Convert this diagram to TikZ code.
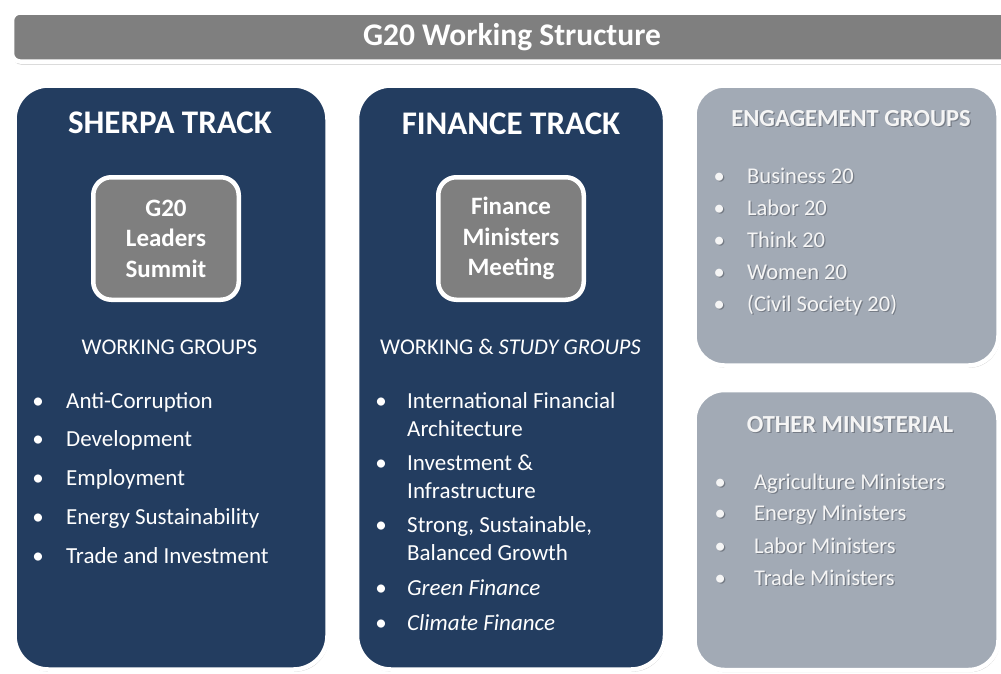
\documentclass[tikz,border=0pt]{standalone}
\usepackage{fontspec}
\setmainfont{Carlito}
\usetikzlibrary{shadows}
\definecolor{navy}{RGB}{35,61,96}
\definecolor{midgray}{RGB}{127,127,127}
\definecolor{paleblue}{RGB}{162,170,181}
\definecolor{txtwhite}{RGB}{245,245,245}
\definecolor{tshadow}{RGB}{118,124,134}
\newcommand{\bl}[1]{\makebox[0pt]{•}\hspace*{#1}}
\newcommand{\tsh}[1]{\leavevmode\rlap{\hspace*{1.2pt}\raisebox{-1.4pt}{\color{tshadow}#1}}#1}
\begin{document}
\begin{tikzpicture}[x=1pt,y=-1pt,
  panel/.style={draw=white, line width=4.5pt, rounded corners=34pt, anchor=north west, inner sep=0pt, outer sep=0pt,
    drop shadow={shadow xshift=1.2pt, shadow yshift=-2.2pt, opacity=0.3, fill=black!70}},
  sidepanel/.style={panel, fill=paleblue, rounded corners=30pt},
  trackpanel/.style={panel, fill=navy},
  innerbox/.style={draw=white, line width=4.5pt, rounded corners=18pt, fill=midgray, text=white,
    font=\fontsize{25}{30.5}\selectfont\bfseries, align=center, inner sep=0pt, outer sep=0pt,
    drop shadow={shadow xshift=1pt, shadow yshift=-2pt, opacity=0.35, fill=black}},
  titlebar/.style={draw=white, line width=4.5pt, rounded corners=8pt, fill=midgray, text=white,
    font=\fontsize{31.5}{36}\selectfont\bfseries, anchor=north west, inner sep=0pt, outer sep=0pt,
    drop shadow={shadow xshift=1pt, shadow yshift=-3pt, opacity=0.3, fill=black!70}},
  bighead/.style={text=white, font=\fontsize{33}{38}\selectfont\bfseries, anchor=base, inner sep=0pt},
  sidehead/.style={text=txtwhite, font=\fontsize{24.5}{28}\selectfont\bfseries, anchor=base, inner sep=0pt},
  subhead/.style={text=white, font=\fontsize{22.5}{26}\selectfont, anchor=base, inner sep=0pt},
  item/.style={text=white, font=\fontsize{23}{27}\selectfont, anchor=base west, inner sep=0pt},
  sideitem/.style={item, text=txtwhite, font=\fontsize{22.5}{26}\selectfont}
]
\useasboundingbox (0,0) rectangle (1001,673);
\fill[white] (0,0) rectangle (1001,673);
\clip (0,0) rectangle (1001,673);

% title bar
\node[titlebar, minimum width=1000pt, minimum height=49pt] (title) at (12,12.5) {G20 Working Structure};

% panels
\node[trackpanel, minimum width=313pt, minimum height=584pt] (sherpa) at (14.5,85.5) {};
\node[trackpanel, minimum width=308pt, minimum height=584pt] (finance) at (357,85.5) {};
\node[sidepanel, minimum width=304pt, minimum height=280pt] (engage) at (694.5,85.5) {};
\node[sidepanel, minimum width=304pt, minimum height=280pt] (other) at (694.5,390) {};

% inner boxes
\node[innerbox, minimum width=145.5pt, minimum height=122.5pt] (summit) at (166,238.5) {G20\\Leaders\\Summit};
\node[innerbox, minimum width=145.5pt, minimum height=122.5pt] (fmm) at (511,238.5) {Finance\\Ministers\\Meeting};

% headers
\node[bighead] (sherpah) at (170,133) {SHERPA TRACK};
\node[bighead] (financeh) at (511,134) {FINANCE TRACK};
\node[subhead] (wg) at (169.5,354) {WORKING GROUPS};
\node[subhead] (wsg) at (510.5,354) {WORKING \& \textit{STUDY GROUPS}};
\node[sidehead] (engageh) at (851,126) {\tsh{ENGAGEMENT GROUPS}};
\node[sidehead] (otherh) at (850,432) {\tsh{OTHER MINISTERIAL}};

% sherpa items
\node[item] (s1) at (38,408) {\bl{28pt}Anti-Corruption};
\node[item] (s2) at (38,446) {\bl{28pt}Development};
\node[item] (s3) at (38,485) {\bl{28pt}Employment};
\node[item] (s4) at (38,524) {\bl{28pt}Energy Sustainability};
\node[item] (s5) at (38,563) {\bl{28pt}Trade and Investment};

% finance items
\node[item] (f1) at (381,408) {\bl{26pt}International Financial};
\node[item] (f1b) at (407,436) {Architecture};
\node[item] (f2) at (381,470) {\bl{26pt}Investment \&};
\node[item] (f2b) at (407,498) {Infrastructure};
\node[item] (f3) at (381,532) {\bl{26pt}Strong, Sustainable,};
\node[item] (f3b) at (407,560) {Balanced Growth};
\node[item] (f4) at (381,595) {\bl{26pt}\textit{Green Finance}};
\node[item] (f5) at (381,630) {\bl{26pt}\textit{Climate Finance}};

% engagement items
\node[sideitem] (e1) at (719,183) {\tsh{\bl{28pt}Business 20}};
\node[sideitem] (e2) at (719,215) {\tsh{\bl{28pt}Labor 20}};
\node[sideitem] (e3) at (719,247) {\tsh{\bl{28pt}Think 20}};
\node[sideitem] (e4) at (719,279) {\tsh{\bl{28pt}Women 20}};
\node[sideitem] (e5) at (719,311) {\tsh{\bl{28pt}(Civil Society 20)}};

% other ministerial items
\node[sideitem] (o1) at (720,489) {\tsh{\bl{34pt}Agriculture Ministers}};
\node[sideitem] (o2) at (720,520) {\tsh{\bl{34pt}Energy Ministers}};
\node[sideitem] (o3) at (720,553) {\tsh{\bl{34pt}Labor Ministers}};
\node[sideitem] (o4) at (720,585) {\tsh{\bl{34pt}Trade Ministers}};
\end{tikzpicture}
\end{document}
